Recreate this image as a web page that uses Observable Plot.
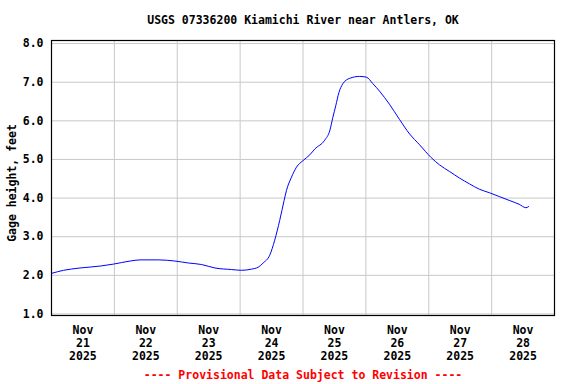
<!DOCTYPE html>
<html>
<head>
<meta charset="utf-8">
<script src="https://cdn.jsdelivr.net/npm/d3@7"></script>
<script src="https://cdn.jsdelivr.net/npm/@observablehq/plot@0.6"></script>
<style>
  html, body { margin: 0; padding: 0; background: #fff; }
</style>
</head>
<body>
<div id="chart"></div>
<script>
// Hours since 2025-11-21 00:00 and gage height (feet)
const hours = [0, 4.6, 10.9, 18.6, 23.6, 30, 33.8, 40.8, 47.1, 52.2, 57.3, 62.4, 68.7, 72.5, 76.3, 78.9, 80.8,
  83.3, 85.2, 87.1, 88.8, 89.7, 91.6, 93.5, 96, 98.6, 100.5, 104.3, 106.2, 107.4, 108.5, 109.7, 111.2,
  113.8, 117.6, 120.2, 122.7, 125.2, 129, 132.8, 136.7, 140.5, 144.9, 148.1, 151.9, 155.7, 159.5,
  163.3, 167.1, 170.9, 174.7, 178.5, 181.1, 182.1];
const gage = [2.05, 2.13, 2.19, 2.24, 2.29, 2.37, 2.40, 2.40, 2.37, 2.32, 2.28, 2.19, 2.15, 2.13, 2.16, 2.21, 2.32,
  2.52, 2.91, 3.42, 3.94, 4.20, 4.54, 4.80, 4.97, 5.12, 5.27, 5.50, 5.74, 6.09, 6.39, 6.73, 6.96,
  7.10, 7.15, 7.13, 6.96, 6.77, 6.43, 6.04, 5.66, 5.38, 5.05, 4.86, 4.69, 4.52, 4.37,
  4.23, 4.14, 4.04, 3.94, 3.84, 3.75, 3.78];
const labelDays = [21, 22, 23, 24, 25, 26, 27, 28];
const labelMonth = "Nov";
const labelYear = "2025";
const yTicks = [1, 2, 3, 4, 5, 6, 7, 8];
const titleText = "USGS 07336200 Kiamichi River near Antlers, OK";
const yLabel = "Gage height, feet";
const captionText = "---- Provisional Data Subject to Revision ----";

const t0 = Date.UTC(2025, 10, 21);
const H = 3600e3;
const data = hours.map((h, i) => ({date: new Date(t0 + h * H), value: gage[i]}));
const labelDates = labelDays.map(d => new Date(Date.UTC(2025, 10, d, 12)));
const gridDates = labelDays.slice(1).map(d => new Date(Date.UTC(2025, 10, d)));
const fmt = d3.format(".1f");

const chart = Plot.plot({
  width: 576,
  height: 384,
  marginLeft: 51,
  marginRight: 22,
  marginTop: 40,
  marginBottom: 69,
  style: {fontFamily: "'DejaVu Sans Mono', monospace", fontSize: "11.5px", fontWeight: "bold", background: "#fff", color: "#000"},
  x: {type: "utc", domain: [new Date(t0), new Date(Date.UTC(2025, 10, 29))]},
  y: {domain: [0.96, 8.08]},
  marks: [
    Plot.gridX(gridDates, {stroke: "#c8c8c8", strokeOpacity: 1}),
    Plot.gridY(yTicks, {stroke: "#c8c8c8", strokeOpacity: 1}),
    Plot.axisY(yTicks, {tickSize: 0, tickPadding: 8, tickFormat: fmt, label: null}),
    Plot.axisX(labelDates, {tickSize: 0, tickPadding: 10, lineHeight: 1.1, label: null,
      tickFormat: d => `${labelMonth}\n${d.getUTCDate()}\n${labelYear}`}),
    Plot.line(data, {x: "date", y: "value", stroke: "#0000ff", strokeWidth: 1, curve: "monotone-x"}),
    Plot.frame({stroke: "#000", strokeWidth: 1.2}),
    Plot.text([titleText], {frameAnchor: "top", dy: -20, lineAnchor: "middle", fill: "#000"}),
    Plot.text([yLabel], {frameAnchor: "left", dx: -39, dy: 5, rotate: -90, textAnchor: "middle", lineAnchor: "middle", fill: "#000"}),
    Plot.text([captionText], {frameAnchor: "bottom", dy: 60, lineAnchor: "middle", fill: "#ff0000"})
  ]
});
document.getElementById("chart").appendChild(chart);
</script>
</body>
</html>
